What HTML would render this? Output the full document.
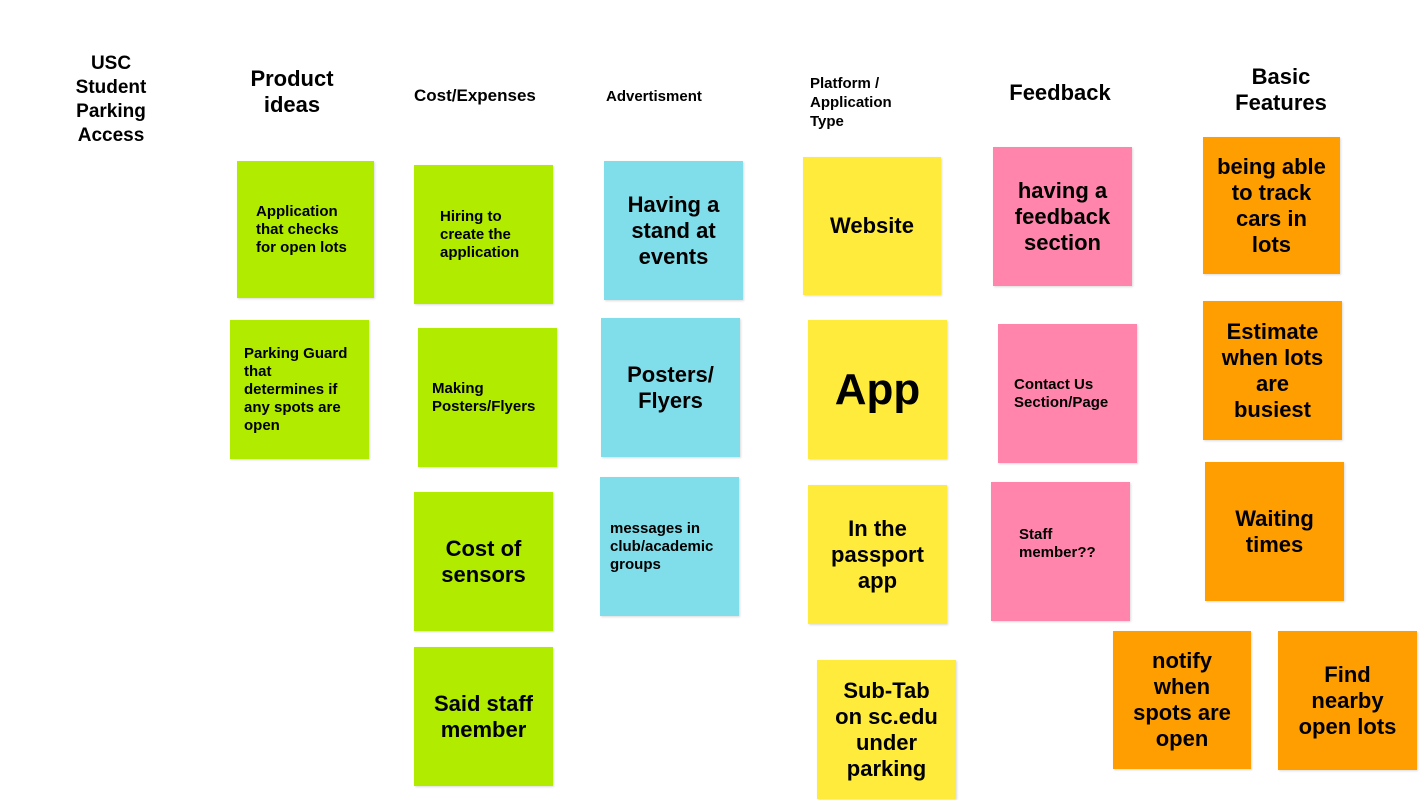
<!DOCTYPE html>
<html><head><meta charset="utf-8"><style>
body{margin:0;width:1422px;height:800px;background:#fff;position:relative;overflow:hidden;font-family:"Liberation Sans",sans-serif;font-weight:bold;color:#000}
.h{position:absolute;text-align:center}
.s{position:absolute;display:flex;align-items:center;justify-content:center;text-align:center;box-shadow:1px 1px 2px rgba(0,0,0,.15);box-sizing:border-box}
.b{font-size:22px;line-height:26px}
.sm{font-size:15px;line-height:18px;text-align:left;justify-content:flex-start;padding-left:19px}
.g{background:#b0eb00}.c{background:#80deea}.y{background:#ffeb3b}.p{background:#ff85ad}.o{background:#ff9e00}
</style></head><body>
<div class="h" style="left:51px;top:52px;width:120px;font-size:19px;line-height:24px">USC<br>Student<br>Parking<br>Access</div>
<div class="h" style="left:222px;top:66px;width:140px;font-size:22px;line-height:26px">Product<br>ideas</div>
<div class="h" style="left:414px;top:86px;width:140px;font-size:17px;text-align:left">Cost/Expenses</div>
<div class="h" style="left:606px;top:88px;width:140px;font-size:15px;text-align:left">Advertisment</div>
<div class="h" style="left:810px;top:74px;width:140px;font-size:15px;line-height:19px;text-align:left">Platform /<br>Application<br>Type</div>
<div class="h" style="left:990px;top:80px;width:140px;font-size:22px;line-height:26px">Feedback</div>
<div class="h" style="left:1211px;top:64px;width:140px;font-size:22px;line-height:26px">Basic<br>Features</div>

<div class="s g sm" style="left:237px;top:161px;width:137px;height:137px">Application<br>that checks<br>for open lots</div>
<div class="s g sm" style="left:230px;top:320px;width:139px;height:139px;padding-left:14px">Parking Guard<br>that<br>determines if<br>any spots are<br>open</div>

<div class="s g sm" style="left:414px;top:165px;width:139px;height:139px;padding-left:26px">Hiring to<br>create the<br>application</div>
<div class="s g sm" style="left:418px;top:328px;width:139px;height:139px;padding-left:14px">Making<br>Posters/Flyers</div>
<div class="s g b" style="left:414px;top:492px;width:139px;height:139px">Cost of<br>sensors</div>
<div class="s g b" style="left:414px;top:647px;width:139px;height:139px">Said staff<br>member</div>

<div class="s c b" style="left:604px;top:161px;width:139px;height:139px">Having a<br>stand at<br>events</div>
<div class="s c b" style="left:601px;top:318px;width:139px;height:139px">Posters/<br>Flyers</div>
<div class="s c sm" style="left:600px;top:477px;width:139px;height:139px;padding-left:10px">messages in<br>club/academic<br>groups</div>

<div class="s y b" style="left:803px;top:157px;width:138px;height:138px">Website</div>
<div class="s y" style="left:808px;top:320px;width:139px;height:139px;font-size:44px">App</div>
<div class="s y b" style="left:808px;top:485px;width:139px;height:139px">In the<br>passport<br>app</div>
<div class="s y b" style="left:817px;top:660px;width:139px;height:139px">Sub-Tab<br>on sc.edu<br>under<br>parking</div>

<div class="s p b" style="left:993px;top:147px;width:139px;height:139px">having a<br>feedback<br>section</div>
<div class="s p sm" style="left:998px;top:324px;width:139px;height:139px;padding-left:16px">Contact Us<br>Section/Page</div>
<div class="s p sm" style="left:991px;top:482px;width:139px;height:139px;padding-left:28px;padding-bottom:16px">Staff<br>member??</div>

<div class="s o b" style="left:1203px;top:137px;width:137px;height:137px">being able<br>to track<br>cars in<br>lots</div>
<div class="s o b" style="left:1203px;top:301px;width:139px;height:139px">Estimate<br>when lots<br>are<br>busiest</div>
<div class="s o b" style="left:1205px;top:462px;width:139px;height:139px">Waiting<br>times</div>
<div class="s o b" style="left:1113px;top:631px;width:138px;height:138px">notify<br>when<br>spots are<br>open</div>
<div class="s o b" style="left:1278px;top:631px;width:139px;height:139px">Find<br>nearby<br>open lots</div>
</body></html>
